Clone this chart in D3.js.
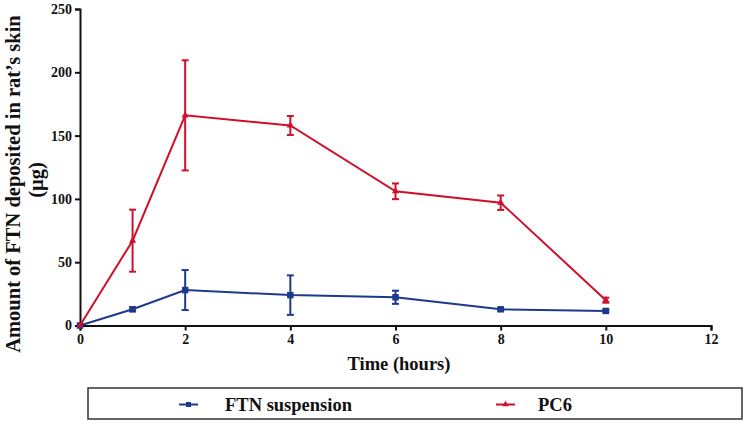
<!DOCTYPE html>
<html><head><meta charset="utf-8">
<script src="https://cdn.jsdelivr.net/npm/d3@7"></script>
<style>body{margin:0;background:#fff}svg{display:block}text{font-family:"Liberation Serif","Times New Roman",serif;font-weight:bold}</style>
</head><body><svg id="c" width="750" height="426"></svg>
<script>
const times = [0, 1, 2, 4, 6, 8, 10];
const ftnMean = [0, 12.8, 28, 24, 22.3, 12.8, 11.5];
const ftnErr  = [0, 1.5, 15.8, 15.6, 5.2, 1, 1];
const pc6Mean = [0, 67, 166, 158, 106, 97, 20];
const pc6Err  = [0, 24.5, 43.5, 7.5, 6.2, 5.7, 2];
const xTicks = [0, 2, 4, 6, 8, 10, 12];
const yTicks = [0, 50, 100, 150, 200, 250];
const seriesNames = ["FTN suspension", "PC6"];
const colors = ["#1c3a8c", "#d0102a"];

const svg = d3.select("#c");
const x = d3.scaleLinear().domain([0, 12]).range([80, 711]);
const y = d3.scaleLinear().domain([0, 250]).range([325.5, 9]);

const xAxis = svg.append("g").attr("transform", "translate(0,325.5)")
  .call(d3.axisBottom(x).tickValues(xTicks).tickSize(5).tickPadding(4));
const yAxis = svg.append("g").attr("transform", "translate(80,0)")
  .call(d3.axisLeft(y).tickValues(yTicks).tickSize(5).tickPadding(3));
[xAxis, yAxis].forEach(a => {
  a.selectAll("path,line").attr("stroke", "#111").attr("stroke-width", 2);
  a.selectAll("text").attr("font-size", 14).attr("fill", "#111")
    .attr("font-family", "Liberation Serif").attr("font-weight", "bold");
});

svg.append("text").attr("x", 399).attr("y", 370).attr("text-anchor", "middle")
  .attr("font-size", 18.5).attr("fill", "#111").text("Time (hours)");
const yt = svg.append("text").attr("transform", "translate(19.5,184) rotate(-90)")
  .attr("text-anchor", "middle").attr("font-size", 20.5).attr("fill", "#111");
yt.append("tspan").attr("x", 0).attr("y", 0).text("Amount of FTN deposited in rat’s skin");
yt.append("tspan").attr("x", 4).attr("y", 23).text("(µg)");

const series = [
  {mean: ftnMean, err: ftnErr, color: colors[0], marker: "square"},
  {mean: pc6Mean, err: pc6Err, color: colors[1], marker: "triangle"}
];
const line = d3.line().x(d => x(d.t)).y(d => y(d.v));
series.forEach(s => {
  const pts = times.map((t, i) => ({t, v: s.mean[i], e: s.err[i]}));
  const g = svg.append("g");
  g.append("path").datum(pts).attr("d", line).attr("fill", "none")
    .attr("stroke", s.color).attr("stroke-width", 2);
  pts.filter(p => p.e > 0).forEach(p => {
    const cx = x(p.t), y1 = y(p.v + p.e), y2 = y(p.v - p.e);
    g.append("line").attr("x1", cx).attr("x2", cx).attr("y1", y1).attr("y2", y2)
      .attr("stroke", s.color).attr("stroke-width", 2);
    [y1, y2].forEach(yy => g.append("line").attr("x1", cx - 3.5).attr("x2", cx + 3.5)
      .attr("y1", yy).attr("y2", yy).attr("stroke", s.color).attr("stroke-width", 2));
  });
  const sym = s.marker === "square" ? d3.symbolSquare : d3.symbolTriangle;
  g.selectAll(".m").data(pts).join("path")
    .attr("transform", d => `translate(${x(d.t)},${y(d.v)})`)
    .attr("d", d3.symbol().type(sym).size(s.marker === "square" ? 42 : 22))
    .attr("fill", s.color);
});

// legend
svg.append("rect").attr("x", 88).attr("y", 388).attr("width", 654).attr("height", 31)
  .attr("fill", "none").attr("stroke", "#333").attr("stroke-width", 1.5);
const legX = [[179, 225], [496, 538]];
seriesNames.forEach((n, i) => {
  const [lx, tx] = legX[i];
  svg.append("line").attr("x1", lx).attr("x2", lx + 19).attr("y1", 404.5).attr("y2", 404.5)
    .attr("stroke", colors[i]).attr("stroke-width", 2);
  svg.append("path").attr("transform", `translate(${lx + 9.5},404.5)`)
    .attr("d", d3.symbol().type(i === 0 ? d3.symbolSquare : d3.symbolTriangle).size(i === 0 ? 25 : 18))
    .attr("fill", colors[i]);
  svg.append("text").attr("x", tx).attr("y", 410.5).attr("font-size", 18.5).attr("fill", "#111").text(n);
});
</script></body></html>
